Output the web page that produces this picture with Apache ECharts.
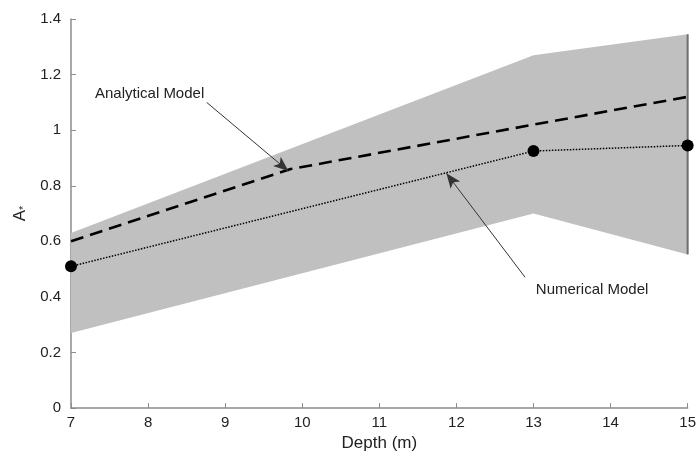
<!DOCTYPE html>
<html>
<head>
<meta charset="utf-8">
<script src="https://cdn.jsdelivr.net/npm/echarts@6/dist/echarts.min.js"></script>
<style>
  html, body { margin: 0; padding: 0; background: #fff; }
  #chart { width: 699px; height: 457px; }
</style>
</head>
<body>
<div id="chart"></div>
<script>
// band (gray envelope)
const bandX = [7, 13, 15];
const bandUpper = [0.63, 1.27, 1.345];
const bandLower = [0.27, 0.70, 0.553];

// analytical model (dashed)
const analyticalX = [7, 9.85, 13, 15];
const analyticalY = [0.60, 0.86, 1.02, 1.12];

// numerical model (dotted with markers)
const numericalX = [7, 13, 15];
const numericalY = [0.51, 0.925, 0.945];

// annotations: [textX, textY, arrowFromX, arrowFromY, arrowToX, arrowToY]
const analyticalNote = [8.02, 1.13, 8.76, 1.10, 9.82, 0.853];
const numericalNote = [13.76, 0.424, 12.89, 0.471, 11.87, 0.845];

const xTicks = [7, 15, 1];
const yTicks = [0, 1.4, 0.2];

const font = "Liberation Sans, Arial, sans-serif";
const chart = echarts.init(document.getElementById("chart"));

const zip = (xs, ys) => xs.map((x, i) => [x, ys[i]]);

function noteSeries(note, text) {
  return {
    type: "line",
    data: [],
    silent: true,
    markPoint: {
      symbol: "circle",
      symbolSize: 0,
      label: {
        show: true,
        position: "inside",
        formatter: text,
        color: "#222",
        fontSize: 15,
        fontFamily: font,
      },
      data: [{ coord: [note[0], note[1]] }],
    },
    markLine: {
      silent: true,
      symbol: ["none", "arrow"],
      symbolSize: [9, 15],
      lineStyle: { color: "#333", width: 1, type: "solid" },
      label: { show: false },
      data: [[{ coord: [note[2], note[3]] }, { coord: [note[4], note[5]] }]],
    },
  };
}

chart.setOption({
  animation: false,
  grid: { left: 71, right: 9, top: 19, bottom: 48 },
  xAxis: {
    type: "value",
    min: xTicks[0],
    max: xTicks[1],
    interval: xTicks[2],
    name: "Depth (m)",
    nameLocation: "middle",
    nameGap: 26,
    nameTextStyle: { color: "#222", fontSize: 17, fontFamily: font },
    axisLine: { lineStyle: { color: "#8c8c8c", width: 1.5 } },
    axisTick: { inside: true, length: 5, lineStyle: { color: "#8c8c8c" } },
    axisLabel: { color: "#222", fontSize: 15, fontFamily: font, margin: 7 },
    splitLine: { show: false },
  },
  yAxis: {
    type: "value",
    min: yTicks[0],
    max: yTicks[1],
    interval: yTicks[2],
    name: "A{s|*}",
    nameLocation: "middle",
    nameGap: 42,
    nameRotate: 90,
    nameTextStyle: {
      color: "#222",
      fontSize: 17,
      fontFamily: font,
      rich: { s: { fontSize: 11, fontFamily: font, color: "#222", padding: [7, 0, 0, 0] } },
    },
    axisLine: { show: true, lineStyle: { color: "#8c8c8c", width: 1.5 } },
    axisTick: { show: true, inside: true, length: 5, lineStyle: { color: "#8c8c8c" } },
    axisLabel: {
      color: "#222",
      fontSize: 15,
      fontFamily: font,
      margin: 10,
      formatter: (v) => String(Math.round(v * 10) / 10),
    },
    splitLine: { show: false },
  },
  series: [
    {
      type: "custom",
      silent: true,
      data: [0],
      renderItem: (params, api) => {
        const top = bandX.map((x, i) => api.coord([x, bandUpper[i]]));
        const bottom = bandX.map((x, i) => api.coord([x, bandLower[i]])).reverse();
        const last = bandX.length - 1;
        return {
          type: "group",
          children: [
            {
              type: "polygon",
              shape: { points: top.concat(bottom) },
              style: { fill: "#c0c0c0" },
            },
            {
              type: "line",
              shape: {
                x1: top[last][0], y1: top[last][1],
                x2: bottom[0][0], y2: bottom[0][1],
              },
              style: { stroke: "#6e6e6e", lineWidth: 2 },
            },
          ],
        };
      },
      z: 1,
    },
    {
      name: "Analytical Model",
      type: "line",
      data: zip(analyticalX, analyticalY),
      showSymbol: false,
      symbol: "none",
      lineStyle: { color: "#000", width: 2.6, type: [13, 7] },
      z: 3,
    },
    {
      name: "Numerical Model",
      type: "line",
      data: zip(numericalX, numericalY),
      symbol: "circle",
      symbolSize: 12,
      itemStyle: { color: "#000" },
      lineStyle: { color: "#000", width: 1.5, type: [1.5, 1.5] },
      z: 4,
    },
    noteSeries(analyticalNote, "Analytical Model"),
    noteSeries(numericalNote, "Numerical Model"),
  ],
});
</script>
</body>
</html>
